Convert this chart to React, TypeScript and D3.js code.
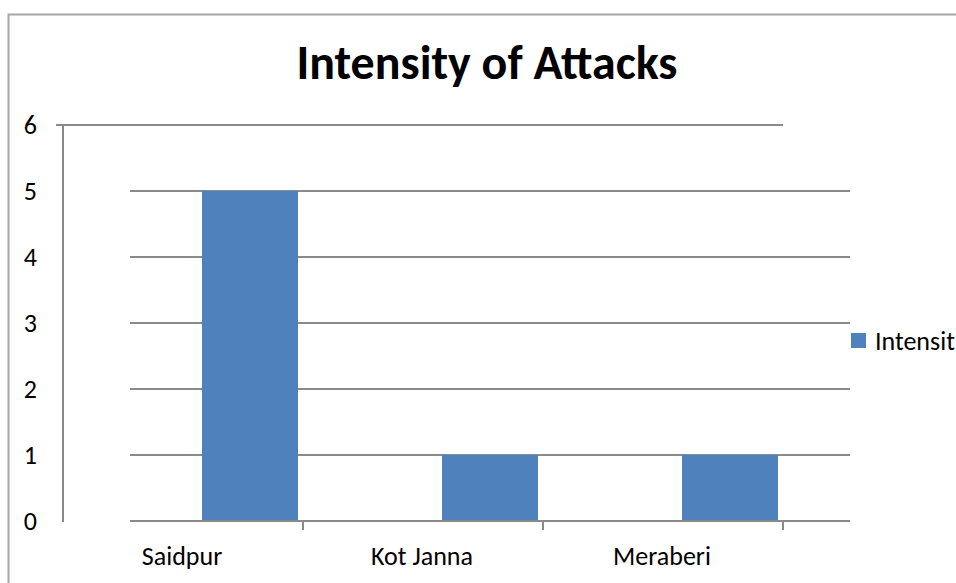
import React, { useRef, useEffect } from "react";
import * as d3 from "d3";

// data
const categories = ["Saidpur", "Kot Janna", "Meraberi"];
const values = [5, 1, 1];
const yTicks = [0, 1, 2, 3, 4, 5, 6];
const seriesName = "Intensit";

const App = () => {
  const ref = useRef<SVGSVGElement | null>(null);

  useEffect(() => {
    const width = 956;
    const height = 583;
    const font = "Carlito, Calibri, 'Open Sans', sans-serif";
    const grey = "#8a8a8a";
    // axis, ticks and labels in the original are drawn shifted left
    const shift = 67;

    const svg = d3.select(ref.current);
    svg.selectAll("*").remove();

    const x = d3.scaleBand().domain(categories).range([130, 850]).paddingInner(0);
    const y = d3.scaleLinear().domain([0, 6]).range([521, 125]);
    const barW = x.bandwidth() * 0.4;

    // outer border (only left and top visible)
    svg
      .append("path")
      .attr("d", `M8.5,${height} V14.5 H${width}`)
      .attr("fill", "none")
      .attr("stroke", "#a6a6a6")
      .attr("stroke-width", 2);

    // title
    svg
      .append("text")
      .attr("x", 487)
      .attr("y", 79)
      .attr("text-anchor", "middle")
      .attr("font-family", font)
      .attr("font-weight", "bold")
      .attr("font-size", 48)
      .attr("textLength", 381)
      .attr("lengthAdjust", "spacingAndGlyphs")
      .attr("fill", "#000")
      .text("Intensity of Attacks");

    // gridlines 1..5
    svg
      .append("g")
      .selectAll("line")
      .data(yTicks.filter((d) => d > 0 && d < 6))
      .join("line")
      .attr("x1", 130)
      .attr("x2", 850)
      .attr("y1", (d) => y(d))
      .attr("y2", (d) => y(d))
      .attr("stroke", grey)
      .attr("stroke-width", 2);

    // top gridline, shifted
    svg
      .append("line")
      .attr("x1", 56)
      .attr("x2", 850 - shift)
      .attr("y1", y(6))
      .attr("y2", y(6))
      .attr("stroke", grey)
      .attr("stroke-width", 2);

    // bars
    svg
      .append("g")
      .attr("fill", "#4f81bd")
      .selectAll("rect")
      .data(values)
      .join("rect")
      .attr("x", (d, i) => (x(categories[i]) as number) + x.bandwidth() / 2 - barW / 2)
      .attr("y", (d) => y(d))
      .attr("width", barW)
      .attr("height", (d) => y(0) - y(d));

    // y axis line (shifted)
    svg
      .append("line")
      .attr("x1", 130 - shift)
      .attr("x2", 130 - shift)
      .attr("y1", y(6))
      .attr("y2", y(0) + 1)
      .attr("stroke", grey)
      .attr("stroke-width", 2);

    // x axis line
    svg
      .append("line")
      .attr("x1", 130)
      .attr("x2", 850)
      .attr("y1", y(0))
      .attr("y2", y(0))
      .attr("stroke", grey)
      .attr("stroke-width", 2);

    // x ticks (shifted)
    svg
      .append("g")
      .selectAll("line")
      .data(categories)
      .join("line")
      .attr("x1", (d) => (x(d) as number) + x.bandwidth() - shift)
      .attr("x2", (d) => (x(d) as number) + x.bandwidth() - shift)
      .attr("y1", y(0))
      .attr("y2", y(0) + 9)
      .attr("stroke", grey)
      .attr("stroke-width", 2);

    // y labels
    svg
      .append("g")
      .selectAll("text")
      .data(yTicks)
      .join("text")
      .attr("x", 37)
      .attr("y", (d) => y(d))
      .attr("dy", "0.35em")
      .attr("text-anchor", "end")
      .attr("font-family", font)
      .attr("font-size", 26)
      .attr("fill", "#000")
      .text((d) => d);

    // category labels (shifted)
    svg
      .append("g")
      .selectAll("text")
      .data(categories)
      .join("text")
      .attr("x", (d) => (x(d) as number) + x.bandwidth() / 2 - shift - 1)
      .attr("y", 565)
      .attr("text-anchor", "middle")
      .attr("font-family", font)
      .attr("font-size", 26)
      .attr("fill", "#000")
      .text((d) => d);

    // legend
    svg
      .append("rect")
      .attr("x", 851)
      .attr("y", 333)
      .attr("width", 15)
      .attr("height", 15)
      .attr("fill", "#4f81bd");
    svg
      .append("text")
      .attr("x", 875)
      .attr("y", 350)
      .attr("font-family", font)
      .attr("font-size", 26)
      .attr("fill", "#000")
      .text(seriesName);
  }, []);

  return (
    <svg
      ref={ref}
      width={956}
      height={583}
      style={{ position: "absolute", left: 0, top: 0, background: "#fff" }}
    />
  );
};

export default App;
